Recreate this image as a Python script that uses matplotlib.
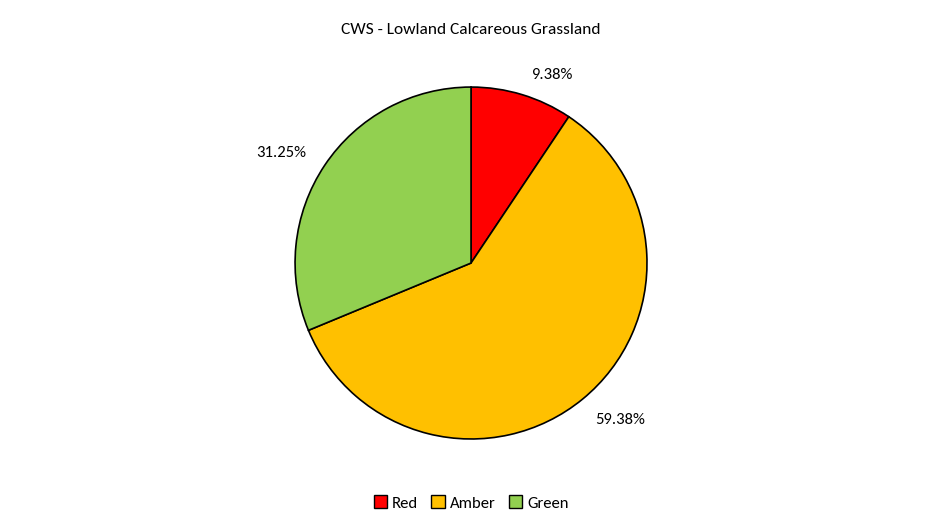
import matplotlib
matplotlib.use("Agg")
import matplotlib.pyplot as plt
from matplotlib.patches import Patch

categories = ["Red", "Amber", "Green"]
values = [9.38, 59.38, 31.25]
colors = ["#FF0000", "#FFC000", "#92D050"]
label_pos = [(0.46, 1.07), (0.85, -0.89), (-1.08, 0.625)]

plt.rcParams['font.family'] = ['Carlito', 'Open Sans', 'DejaVu Sans']
fig = plt.figure(figsize=(9.43, 5.32), dpi=100)
ax = fig.add_axes([0.4995 - 0.1866, 0.5056 - 0.3308, 0.3732, 0.6616])
wedges, _ = ax.pie(values, colors=colors, startangle=90, counterclock=False,
                   wedgeprops=dict(edgecolor="black", linewidth=1.2), radius=1)
ax.set_xlim(-1, 1); ax.set_ylim(-1, 1); ax.set_aspect('equal')
for v, (x, y) in zip(values, label_pos):
    ax.text(x, y, f"{v:.2f}%", ha='center', va='center', fontsize=12, clip_on=False)
fig.text(0.4995, 1 - 30/532, "CWS - Lowland Calcareous Grassland", ha='center', va='center', fontsize=12.5)
handles = [Patch(facecolor=c, edgecolor='black', label=l) for c, l in zip(colors, categories)]
fig.legend(handles=handles, loc='center', bbox_to_anchor=(0.4995, 1 - 503/532), ncol=3,
           frameon=False, fontsize=12, handlelength=0.8, handleheight=0.8,
           columnspacing=0.8, handletextpad=0.3)
fig.savefig("out.png", dpi=100)
